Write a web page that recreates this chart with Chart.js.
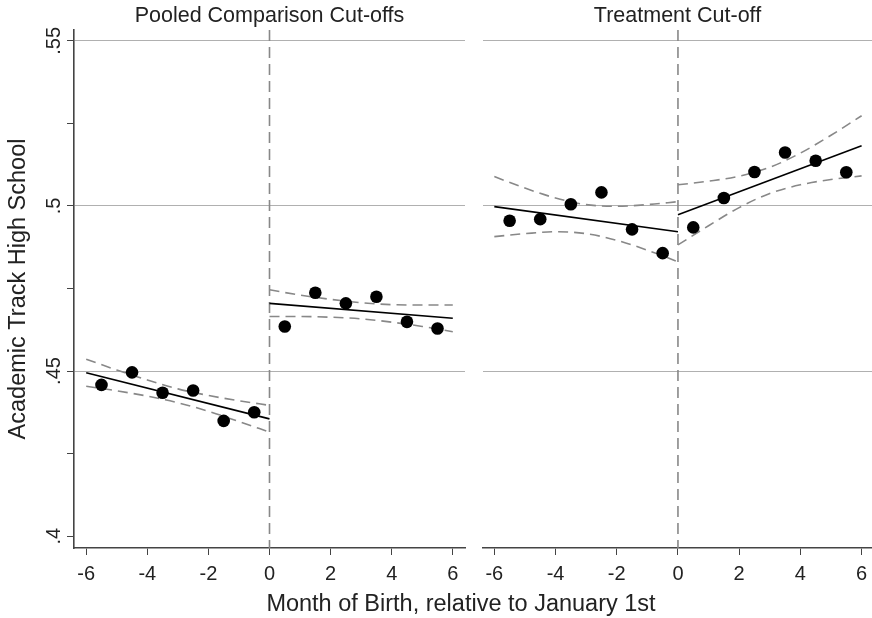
<!DOCTYPE html>
<html>
<head>
<meta charset="utf-8">
<script src="https://cdn.jsdelivr.net/npm/chart.js@4.4.1/dist/chart.umd.min.js"></script>
<style>
  body { margin: 0; background: #fff; }
  #wrap { position: relative; width: 872px; height: 618px; overflow: hidden; }
  #left { position: absolute; left: 0; top: 0; }
  #right { position: absolute; left: 470px; top: 0; }
  #xtitle {
    position: absolute; left: 261px; width: 400px; top: 592px;
    text-align: center; font: 23.5px "Liberation Sans", Arial, sans-serif;
    line-height: 23px; color: #222; white-space: nowrap;
  }
</style>
</head>
<body>
<div id="wrap">
  <canvas id="left" width="470" height="618"></canvas>
  <canvas id="right" width="402" height="618"></canvas>
  <div id="xtitle">Month of Birth, relative to January 1st</div>
</div>
<script>
const FONT = '"Liberation Sans", Arial, sans-serif';

// bin midpoints, months relative to the cut-off
const monthsBefore = [-5.5, -4.5, -3.5, -2.5, -1.5, -0.5];
const monthsAfter = [0.5, 1.5, 2.5, 3.5, 4.5, 5.5];

// pooled comparison cut-offs - bin means
const pooledBefore = [0.4458, 0.4496, 0.4434, 0.4441, 0.4349, 0.4375];
const pooledAfter = [0.4635, 0.4737, 0.4705, 0.4725, 0.4649, 0.4629];
// treatment cut-off - bin means
const treatBefore = [0.4955, 0.4960, 0.5005, 0.5041, 0.4929, 0.4857];
const treatAfter = [0.4935, 0.5024, 0.5103, 0.5162, 0.5137, 0.5102];

// linear fits, end points
const fitXBefore = [-6, 0];
const fitXAfter = [0, 6];
const pooledFitBefore = [0.4495, 0.4355];
const pooledFitAfter = [0.4705, 0.4660];
const treatFitBefore = [0.4998, 0.4922];
const treatFitAfter = [0.4973, 0.5182];

// confidence bands, read at whole months
const bandXBefore = [-6, -5, -4, -3, -2, -1, 0];
const bandXAfter = [0, 1, 2, 3, 4, 5, 6];
const pooledUpBefore = [0.4536, 0.4503, 0.4473, 0.4446, 0.4426, 0.4410, 0.4396];
const pooledLoBefore = [0.4454, 0.4440, 0.4424, 0.4404, 0.4378, 0.4347, 0.4315];
const pooledUpAfter = [0.4746, 0.4730, 0.4717, 0.4707, 0.4701, 0.4700, 0.4700];
const pooledLoAfter = [0.4665, 0.4665, 0.4663, 0.4658, 0.4648, 0.4635, 0.4619];
const treatUpBefore = [0.5089, 0.5054, 0.5024, 0.5004, 0.4999, 0.5004, 0.5013];
const treatLoBefore = [0.4907, 0.4916, 0.4922, 0.4916, 0.4896, 0.4866, 0.4831];
const treatUpAfter = [0.5064, 0.5075, 0.5090, 0.5117, 0.5160, 0.5214, 0.5273];
const treatLoAfter = [0.4882, 0.4940, 0.4995, 0.5038, 0.5064, 0.5080, 0.5091];

// axes
const xTicks = [-6, -4, -2, 0, 2, 4, 6];
const yTicks = [0.4, 0.425, 0.45, 0.475, 0.5, 0.525, 0.55];
const yGridAt = [0.45, 0.5, 0.55];
const yLabelValues = [0.4, 0.45, 0.5, 0.55];
const yLabelText = ['.4', '.45', '.5', '.55'];
const yMin = 0.3964, yMax = 0.5533;
const cutoff = 0;

function pts(xs, ys) {
  return xs.map((x, i) => ({ x: x, y: ys[i] }));
}

function fitLine(xs, ys) {
  return { data: pts(xs, ys), showLine: true, borderColor: '#000', borderWidth: 1.6, pointRadius: 0 };
}

function band(xs, ys) {
  return {
    data: pts(xs, ys), showLine: true, borderColor: '#888', borderWidth: 1.6,
    borderDash: [10, 6], pointRadius: 0, cubicInterpolationMode: 'monotone'
  };
}

function panelData(dB, dA, fB, fA, uB, lB, uA, lA) {
  return {
    datasets: [
      // first one is drawn on top
      { data: pts(monthsBefore, dB).concat(pts(monthsAfter, dA)), showLine: false,
        pointRadius: 6.3, backgroundColor: '#000', borderWidth: 0 },
      fitLine(fitXBefore, fB),
      fitLine(fitXAfter, fA),
      band(bandXBefore, uB),
      band(bandXBefore, lB),
      band(bandXAfter, uA),
      band(bandXAfter, lA)
    ]
  };
}

// dashed vertical line at the cut-off
const cutoffLine = {
  id: 'cutoffLine',
  beforeDatasetsDraw(chart) {
    const ctx = chart.ctx, a = chart.chartArea;
    const px = chart.scales.x.getPixelForValue(cutoff);
    ctx.save();
    ctx.strokeStyle = '#888';
    ctx.lineWidth = 1.6;
    ctx.setLineDash([11, 6]);
    ctx.beginPath();
    ctx.moveTo(px, a.top);
    ctx.lineTo(px, a.bottom);
    ctx.stroke();
    ctx.restore();
  }
};

// rotated y tick labels, like stata does
const yLabels = {
  id: 'yLabels',
  afterDraw(chart) {
    const ctx = chart.ctx, y = chart.scales.y;
    ctx.save();
    ctx.font = '20px ' + FONT;
    ctx.fillStyle = '#222';
    ctx.textAlign = 'center';
    ctx.textBaseline = 'alphabetic';
    yLabelValues.forEach((v, i) => {
      ctx.save();
      ctx.translate(chart.chartArea.left - 14, y.getPixelForValue(v));
      ctx.rotate(-Math.PI / 2);
      ctx.fillText(yLabelText[i], 0, 0);
      ctx.restore();
    });
    ctx.restore();
  }
};

function panelOptions(title, showY, xMin, xMax) {
  return {
    responsive: false,
    animation: false,
    layout: {
      autoPadding: false, // else the dot radius eats into the plot width
      padding: { top: 0, left: 0, bottom: 0, right: showY ? 5 : 0 }
    },
    plugins: {
      legend: { display: false },
      tooltip: { enabled: false },
      title: {
        display: true, text: title, fullSize: false, color: '#222',
        font: { family: FONT, size: 21.5, weight: 'normal', lineHeight: 1.1 },
        padding: { top: 4, bottom: 2.3 }
      }
    },
    scales: {
      x: {
        type: 'linear', min: xMin, max: xMax,
        afterBuildTicks: s => { s.ticks = xTicks.map(v => ({ value: v })); },
        // no extra room for the end labels, they fit anyway
        afterFit: s => { s.height = 70; s.paddingLeft = 0; s.paddingRight = 0; },
        grid: { drawOnChartArea: false, drawTicks: true, tickLength: 7, tickColor: '#444' },
        border: { display: true, color: '#444', width: 1.6 },
        ticks: { font: { family: FONT, size: 20 }, color: '#222', padding: 7, maxRotation: 0,
                 callback: v => String(v) }
      },
      y: {
        type: 'linear', min: yMin, max: yMax,
        afterBuildTicks: s => { s.ticks = yTicks.map(v => ({ value: v })); },
        afterFit: s => { s.width = showY ? 74 : 13; s.paddingTop = 0; s.paddingBottom = 0; },
        grid: {
          color: c => yGridAt.includes(c.tick.value) ? '#b0b0b0' : 'rgba(0,0,0,0)',
          lineWidth: 1,
          drawTicks: showY, tickLength: 7, tickColor: '#444'
        },
        border: { display: showY, color: '#444', width: 1.6 },
        ticks: { display: false },
        title: {
          display: showY, text: 'Academic Track High School', color: '#222',
          font: { family: FONT, size: 23.5 }, padding: { top: 4, bottom: 0 }
        }
      }
    }
  };
}

new Chart(document.getElementById('left'), {
  type: 'scatter',
  data: panelData(pooledBefore, pooledAfter, pooledFitBefore, pooledFitAfter,
                  pooledUpBefore, pooledLoBefore, pooledUpAfter, pooledLoAfter),
  options: panelOptions('Pooled Comparison Cut-offs', true, -6.4, 6.4),
  plugins: [cutoffLine, yLabels]
});

new Chart(document.getElementById('right'), {
  type: 'scatter',
  data: panelData(treatBefore, treatAfter, treatFitBefore, treatFitAfter,
                  treatUpBefore, treatLoBefore, treatUpAfter, treatLoAfter),
  options: panelOptions('Treatment Cut-off', false, -6.37, 6.34),
  plugins: [cutoffLine]
});
</script>
</body>
</html>
